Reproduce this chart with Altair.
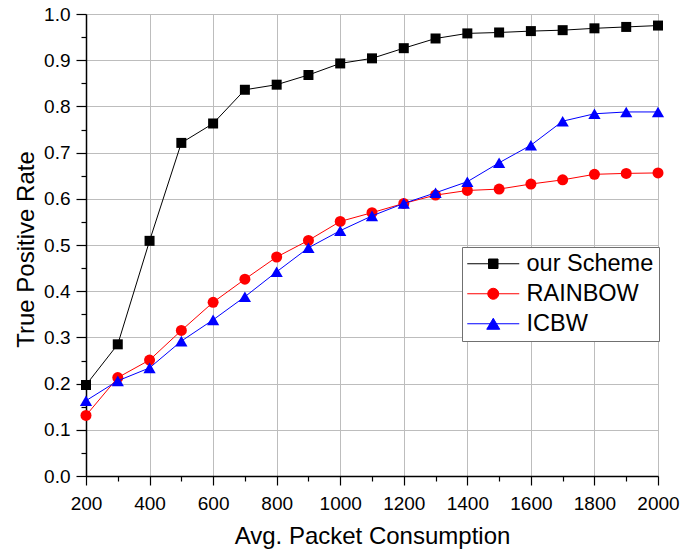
import altair as alt
import pandas as pd

# Average packet consumption (x) and true positive rate of each scheme
x_vals = [200, 300, 400, 500, 600, 700, 800, 900, 1000, 1100,
          1200, 1300, 1400, 1500, 1600, 1700, 1800, 1900, 2000]
our_scheme = [0.197, 0.285, 0.509, 0.721, 0.763, 0.836, 0.847, 0.868, 0.893, 0.904,
              0.926, 0.947, 0.958, 0.960, 0.963, 0.965, 0.969, 0.972, 0.975]
rainbow = [0.131, 0.213, 0.251, 0.315, 0.376, 0.426, 0.474, 0.510, 0.551, 0.570,
           0.590, 0.608, 0.618, 0.621, 0.632, 0.641, 0.653, 0.655, 0.656]
icbw = [0.163, 0.206, 0.234, 0.292, 0.338, 0.388, 0.442, 0.494, 0.531, 0.563,
        0.590, 0.613, 0.637, 0.678, 0.716, 0.768, 0.784, 0.788, 0.788]

series_names = ["our Scheme", "RAINBOW", "ICBW"]
series_colors = ["#000000", "#ff0000", "#0000ff"]
series_shapes = ["square", "circle", "triangle-up"]
series_sizes = [100, 121, 150]

x_ticks = [200, 300, 400, 500, 600, 700, 800, 900, 1000, 1100,
           1200, 1300, 1400, 1500, 1600, 1700, 1800, 1900, 2000]
y_ticks = [0.0, 0.05, 0.1, 0.15, 0.2, 0.25, 0.3, 0.35, 0.4, 0.45, 0.5,
           0.55, 0.6, 0.65, 0.7, 0.75, 0.8, 0.85, 0.9, 0.95, 1.0]

# Legend glyphs: a line segment with the series marker on it
legend_paths = [
    "M-2.3,0L8.1,0M1.95,-0.95L3.85,-0.95L3.85,0.95L1.95,0.95Z",
    "M-2.3,0L8.1,0M1.8,0A1.1,1.1 0 1,0 4.0,0A1.1,1.1 0 1,0 1.8,0Z",
    "M-2.3,0L8.1,0M2.9,-1.1L4.2,1.1L1.6,1.1Z",
]

df = pd.DataFrame({
    "x": x_vals * 3,
    "v": our_scheme + rainbow + icbw,
    "series": ["our Scheme"] * len(x_vals) + ["RAINBOW"] * len(x_vals) + ["ICBW"] * len(x_vals),
})

major_x = "datum.value % 200 === 0"
major_y = "abs(datum.value * 10 - round(datum.value * 10)) < 0.001"

x_enc = alt.X(
    "x:Q",
    scale=alt.Scale(domain=[200, 2000], nice=False, zero=False),
    axis=alt.Axis(
        values=x_ticks,
        format="d",
        labelExpr=f"{major_x} ? datum.label : ''",
        tickSize={"condition": {"test": major_x, "value": 9}, "value": 5},
        gridOpacity={"condition": {"test": major_x, "value": 1}, "value": 0},
        labelFlush=False,
        labelOverlap=False,
        labelPadding=9,
        title="Avg. Packet Consumption",
        titleBaseline="alphabetic",
        titleY=67,
        titleX=286,
    ),
)
y_enc = alt.Y(
    "v:Q",
    scale=alt.Scale(domain=[0, 1], nice=False),
    axis=alt.Axis(
        values=y_ticks,
        format=".1f",
        labelExpr=f"{major_y} ? datum.label : ''",
        tickSize={"condition": {"test": major_y, "value": 10}, "value": 5},
        gridOpacity={"condition": {"test": major_y, "value": 1}, "value": 0},
        labelFlush=False,
        labelOverlap=False,
        labelPadding=6,
        title="True Positive Rate",
        titleBaseline="alphabetic",
        titleX=-53,
        titleY=235,
    ),
)

layers = []
for name, color, shape, size in zip(["RAINBOW", "ICBW", "our Scheme"],
                                    [series_colors[1], series_colors[2], series_colors[0]],
                                    [series_shapes[1], series_shapes[2], series_shapes[0]],
                                    [series_sizes[1], series_sizes[2], series_sizes[0]]):
    base = alt.Chart(df).transform_filter(alt.datum.series == name)
    layers.append(base.mark_line(color=color, strokeWidth=1).encode(x=x_enc, y=y_enc))
    layers.append(
        base.mark_point(shape=shape, filled=True, color=color, size=size, opacity=1)
        .encode(x=x_enc, y=y_enc)
    )

legend_cfg = alt.Legend(
    title=None,
    orient="none",
    legendX=376,
    legendY=233,
    padding=5,
    fillColor="white",
    strokeColor="#707070",
    symbolSize=100,
    symbolStrokeWidth=1,
    symbolOpacity=1,
    labelFont="Liberation Sans",
    labelFontSize=23.5,
    labelColor="black",
    labelOffset=36,
    labelLimit=300,
    rowPadding=5,
)

legend_layer = alt.Chart(df).mark_point(filled=True, opacity=1, strokeWidth=1).encode(
    x=x_enc,
    y=y_enc,
    fill=alt.Fill("series:N", scale=alt.Scale(domain=series_names, range=series_colors), legend=legend_cfg),
    stroke=alt.Stroke("series:N", scale=alt.Scale(domain=series_names, range=series_colors), legend=legend_cfg),
    shape=alt.Shape("series:N", scale=alt.Scale(domain=series_names, range=legend_paths), legend=legend_cfg),
).transform_filter("false")

chart = (
    alt.layer(*layers, legend_layer)
    .properties(
        width=572,
        height=462,
        autosize=alt.AutoSizeParams(type="none"),
        padding={"left": 86, "top": 14, "right": 37, "bottom": 74},
        background="white",
    )
    .configure_view(stroke="#808080", strokeWidth=1)
    .configure_axis(
        domainColor="black",
        domainWidth=1.5,
        tickColor="black",
        tickWidth=1.2,
        gridColor="#bdbdbd",
        gridWidth=1,
        labelFont="Liberation Sans",
        labelFontSize=19,
        labelColor="black",
        titleFont="Liberation Sans",
        titleFontSize=24,
        titleFontWeight="normal",
        titleColor="black",
    )
)

chart.save("out.html", embed_options={"renderer": "svg", "actions": False})
